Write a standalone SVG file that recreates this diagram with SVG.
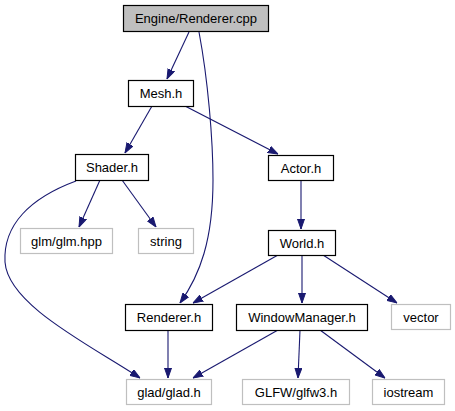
<svg xmlns="http://www.w3.org/2000/svg" width="455" height="411" viewBox="0 0 455 411">
<style>
.n rect{fill:#fff;stroke:#000;stroke-width:1.2}
.x rect{fill:#fff;stroke:#bfbfbf;stroke-width:1.2}
.g rect{fill:#bfbfbf;stroke:#000;stroke-width:1.2}
text{font-family:"Liberation Sans",Arial,sans-serif;font-size:13px;text-anchor:middle;fill:#000}
.e path{fill:none;stroke:#191970;stroke-width:1.1}
</style>
<defs>
<marker id="a" viewBox="0 0 10 8" refX="10" refY="4" markerWidth="10" markerHeight="8" orient="auto" markerUnits="userSpaceOnUse">
<path d="M0,0.5 L10,4 L0,7.5 Z" fill="#191970" stroke="#191970"/>
</marker>
</defs>
<rect width="455" height="411" fill="#fff"/>
<g class="e" id="edges">
<path d="M189,32 L167,79" marker-end="url(#a)"/>
<path d="M199,32 C208,80 213,140 213,180 C213,240 200,275 180,303" marker-end="url(#a)"/>
<path d="M152,106 L125,153" marker-end="url(#a)"/>
<path d="M185,106 L278,154" marker-end="url(#a)"/>
<path d="M100,180 L79,227" marker-end="url(#a)"/>
<path d="M122,180 L156,227" marker-end="url(#a)"/>
<path d="M76,181 C30,198 3,225 5,262 C8,305 90,345 140,378" marker-end="url(#a)"/>
<path d="M301,180 L301,229" marker-end="url(#a)"/>
<path d="M278,255 L193,303" marker-end="url(#a)"/>
<path d="M302,255 L302,303" marker-end="url(#a)"/>
<path d="M323,255 L397,303" marker-end="url(#a)"/>
<path d="M168,330 L168,378" marker-end="url(#a)"/>
<path d="M278,330 L193,378" marker-end="url(#a)"/>
<path d="M300,330 L298,378" marker-end="url(#a)"/>
<path d="M320,330 L385,378" marker-end="url(#a)"/>
</g>
<g id="cpp" class="g"><rect x="123.5" y="5.5" width="145" height="26"/><text x="196" y="23">Engine/Renderer.cpp</text></g>
<g id="mesh" class="n"><rect x="128.5" y="80.5" width="65" height="26"/><text x="161" y="98">Mesh.h</text></g>
<g id="shader" class="n"><rect x="75.5" y="154.5" width="73" height="26"/><text x="112" y="172">Shader.h</text></g>
<g id="glm" class="x"><rect x="20.5" y="228.5" width="92" height="25"/><text x="66.5" y="245.5">glm/glm.hpp</text></g>
<g id="string" class="x"><rect x="138.5" y="228.5" width="55" height="25"/><text x="166" y="245.5">string</text></g>
<g id="actor" class="n"><rect x="268.5" y="155.5" width="65" height="25"/><text x="301" y="172.5">Actor.h</text></g>
<g id="world" class="n"><rect x="268.5" y="230.5" width="67" height="25"/><text x="302" y="247.5">World.h</text></g>
<g id="rendererh" class="n"><rect x="125.5" y="304.5" width="87" height="26"/><text x="169" y="322">Renderer.h</text></g>
<g id="wm" class="n"><rect x="236.5" y="304.5" width="131" height="26"/><text x="302" y="322">WindowManager.h</text></g>
<g id="vector" class="x"><rect x="391.5" y="304.5" width="59" height="25"/><text x="421" y="321.5">vector</text></g>
<g id="glad" class="x"><rect x="126.5" y="379.5" width="85" height="25"/><text x="169" y="396.5">glad/glad.h</text></g>
<g id="glfw" class="x"><rect x="242.5" y="379.5" width="107" height="25"/><text x="296" y="396.5">GLFW/glfw3.h</text></g>
<g id="iostream" class="x"><rect x="372.5" y="379.5" width="72" height="25"/><text x="408.5" y="396.5">iostream</text></g>
</svg>
